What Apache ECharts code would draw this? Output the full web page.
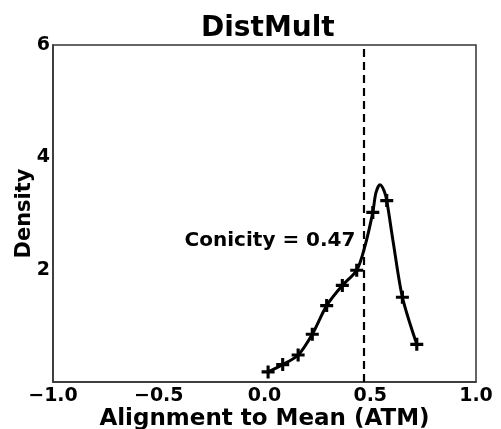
<!DOCTYPE html>
<html>
<head>
<meta charset="utf-8">
<script src="https://cdn.jsdelivr.net/npm/echarts@6/dist/echarts.min.js"></script>
<style>
  html, body { margin: 0; padding: 0; background: #fff; }
  #chart { width: 501px; height: 429px; }
</style>
</head>
<body>
<div id="chart"></div>
<script>
// density curve
var curveX = [0.017, 0.086, 0.159, 0.226, 0.294, 0.368, 0.436, 0.475, 0.512, 0.527, 0.546, 0.566, 0.578, 0.609, 0.652, 0.720];
var curveY = [0.18, 0.31, 0.48, 0.85, 1.36, 1.72, 1.99, 2.42, 3.02, 3.37, 3.51, 3.40, 3.23, 2.48, 1.51, 0.67];
// '+' markers
var markX = [0.017, 0.086, 0.159, 0.226, 0.294, 0.368, 0.436, 0.512, 0.578, 0.652, 0.720];
var markY = [0.18, 0.31, 0.48, 0.85, 1.36, 1.72, 1.99, 3.02, 3.23, 1.51, 0.67];
var xTicks = [-1.0, -0.5, 0.0, 0.5, 1.0];
var yTicks = [2, 4, 6];
var conicity = 0.47;
var labelPos = [0.43, 2.52];

var chart = echarts.init(document.getElementById('chart'));
var font = 'DejaVu Sans';
var plus = 'path://M3.8,0 H6.2 V3.8 H10 V6.2 H6.2 V10 H3.8 V6.2 H0 V3.8 H3.8 Z';

var option = {
  animation: false,
  title: {
    text: 'DistMult',
    left: 196, top: 10,
    textStyle: { fontFamily: font, fontWeight: 'bold', fontSize: 28, color: '#000' }
  },
  grid: {
    left: 53, right: 25, top: 45, bottom: 47,
    containLabel: false, outerBoundsMode: 'none',
    show: true, borderColor: '#333', borderWidth: 1.5
  },
  xAxis: {
    type: 'value', min: -1, max: 1, interval: 0.5,
    name: 'Alignment to Mean (ATM)', nameLocation: 'middle', nameGap: 26, nameMoveOverlap: false,
    nameTextStyle: { fontFamily: font, fontWeight: 'bold', fontSize: 23, color: '#000' },
    axisLine: { show: true, onZero: false, lineStyle: { color: '#333', width: 1.5 } },
    axisTick: { show: false },
    splitLine: { show: false },
    axisLabel: {
      fontFamily: font, fontWeight: 'bold', fontSize: 19, color: '#000', margin: 5,
      formatter: function (v) {
        return xTicks.indexOf(v) < 0 ? '' : (v < 0 ? '\u2212' : '') + Math.abs(v).toFixed(1);
      }
    }
  },
  yAxis: {
    type: 'value', min: 0, max: 6, interval: 2,
    name: 'Density', nameLocation: 'middle', nameGap: 18, nameMoveOverlap: false,
    nameTextStyle: { fontFamily: font, fontWeight: 'bold', fontSize: 21, color: '#000' },
    axisLine: { show: true, onZero: false, lineStyle: { color: '#333', width: 1.5 } },
    axisTick: { show: false },
    splitLine: { show: false },
    axisLabel: {
      fontFamily: font, fontWeight: 'bold', fontSize: 19, color: '#000', margin: 3,
      formatter: function (v) { return yTicks.indexOf(v) < 0 ? '' : String(v); }
    }
  },
  series: [
    {
      type: 'line', smooth: 0.3, showSymbol: false,
      data: curveX.map(function (x, i) { return [x, curveY[i]]; }),
      lineStyle: { color: '#000', width: 3 },
      markLine: {
        silent: true, symbol: 'none', label: { show: false },
        lineStyle: { color: '#000', type: [8, 5], width: 2.2 },
        data: [{ xAxis: conicity }]
      }
    },
    {
      type: 'scatter', symbol: plus, symbolSize: 13,
      data: markX.map(function (x, i) { return [x, markY[i]]; }),
      itemStyle: { color: '#000', opacity: 1 }
    },
    {
      type: 'scatter', symbolSize: 0,
      data: [labelPos],
      itemStyle: { opacity: 1 },
      label: {
        show: true, position: 'left', distance: 0,
        formatter: 'Conicity = ' + conicity,
        fontFamily: font, fontWeight: 'bold', fontSize: 20, color: '#000'
      }
    }
  ]
};
chart.setOption(option);
</script>
</body>
</html>
